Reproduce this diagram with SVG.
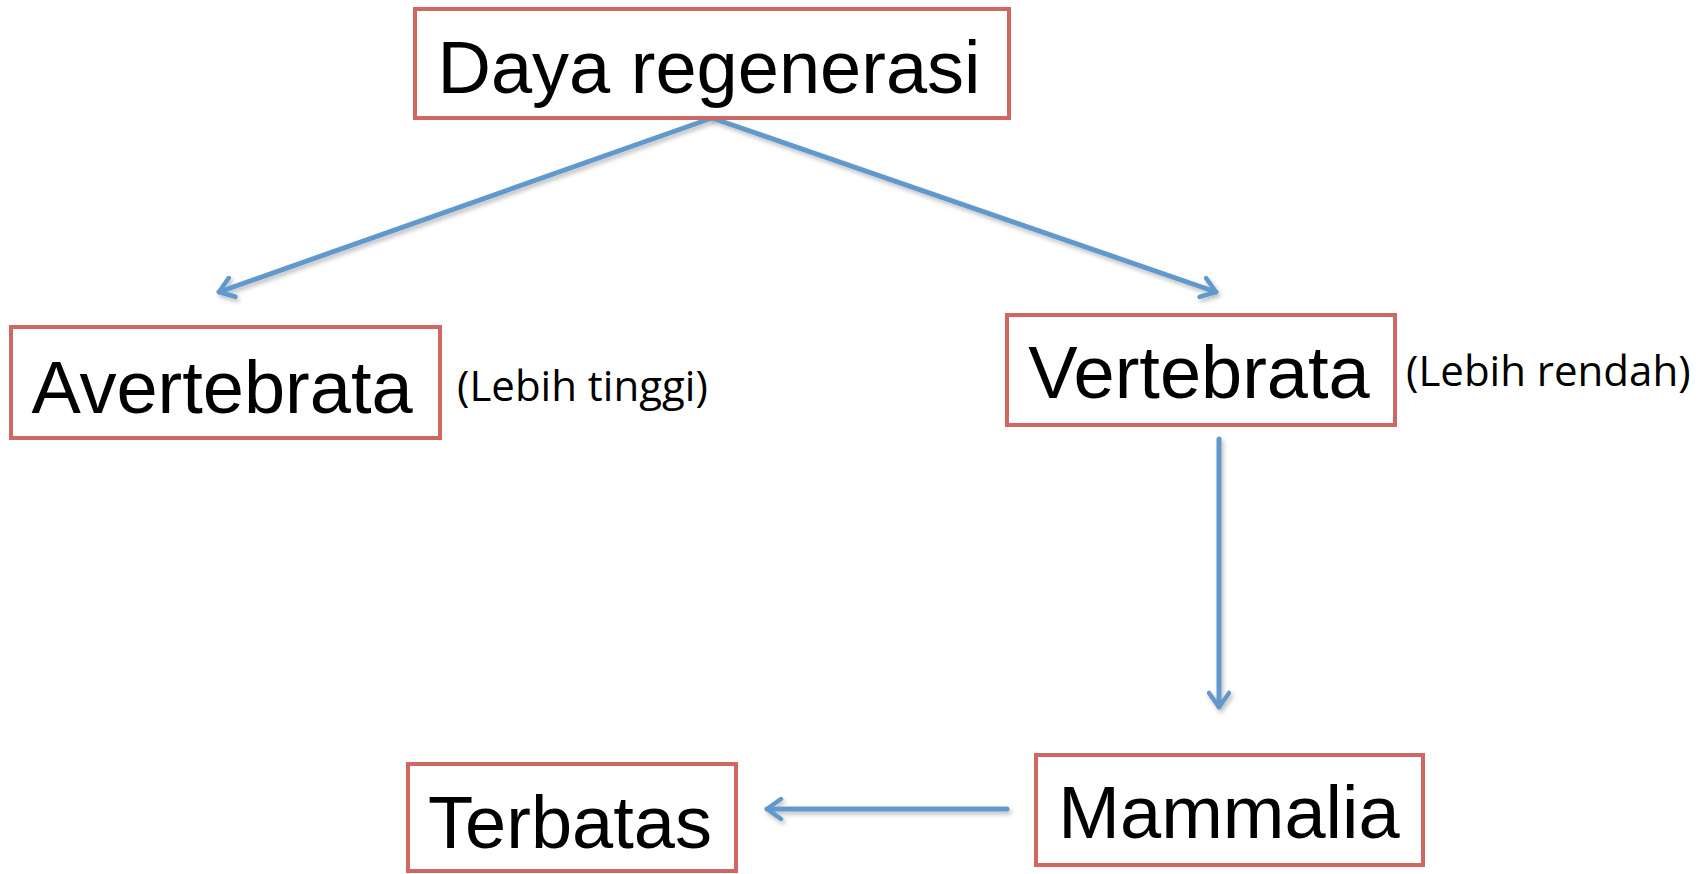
<svg xmlns="http://www.w3.org/2000/svg" width="1707" height="874" viewBox="0 0 1707 874">
  <style>
    .box { fill: #ffffff; stroke: #CF6862; stroke-width: 4; }
    .lbl { font-family: "Liberation Sans", Arial, sans-serif; font-size: 74px; fill: #000000; text-anchor: middle; }
    .note { font-family: "Open Sans", "Noto Sans", sans-serif; font-size: 42px; fill: #000000; }
    .conn { fill: none; stroke: #6299CD; stroke-width: 5; stroke-linecap: round; filter: url(#sh); }
  </style>
  <defs>
    <filter id="sh" filterUnits="userSpaceOnUse" x="0" y="0" width="1707" height="874">
      <feDropShadow dx="2" dy="3" stdDeviation="2" flood-color="#000000" flood-opacity="0.25"/>
    </filter>
    <marker id="arr" viewBox="0 0 24 24" refX="21" refY="12" markerWidth="24" markerHeight="24" markerUnits="userSpaceOnUse" orient="auto">
      <path d="M 7 2 L 21 12 L 7 22" fill="none" stroke="#6299CD" stroke-width="4.5" stroke-linecap="round" stroke-linejoin="round"/>
    </marker>
  </defs>
  <rect width="1707" height="874" fill="#ffffff"/>

  <g id="connectors">
    <path class="conn" d="M 712 118 L 219 292" marker-end="url(#arr)"/>
    <path class="conn" d="M 712 118 L 1216 292" marker-end="url(#arr)"/>
    <path class="conn" d="M 1219 439 L 1219 707" marker-end="url(#arr)"/>
    <path class="conn" d="M 1007 809 L 767 809" marker-end="url(#arr)"/>
  </g>

  <g id="node-daya">
    <rect class="box" x="415" y="9" width="594" height="109"/>
    <text class="lbl" x="709" y="93">Daya regenerasi</text>
  </g>

  <g id="node-avertebrata">
    <rect class="box" x="11" y="327" width="429" height="111"/>
    <text class="lbl" x="222" y="413">Avertebrata</text>
  </g>
  <g id="note-avertebrata">
    <text class="note" x="457" y="401">(Lebih tinggi)</text>
  </g>

  <g id="node-vertebrata">
    <rect class="box" x="1007" y="315" width="388" height="110"/>
    <text class="lbl" x="1199" y="398">Vertebrata</text>
  </g>
  <g id="note-vertebrata">
    <text class="note" x="1406" y="386">(Lebih rendah)</text>
  </g>

  <g id="node-mammalia">
    <rect class="box" x="1036" y="755" width="387" height="110"/>
    <text class="lbl" x="1229" y="838">Mammalia</text>
  </g>

  <g id="node-terbatas">
    <rect class="box" x="408" y="764" width="328" height="107"/>
    <text class="lbl" x="570" y="848">Terbatas</text>
  </g>
</svg>
